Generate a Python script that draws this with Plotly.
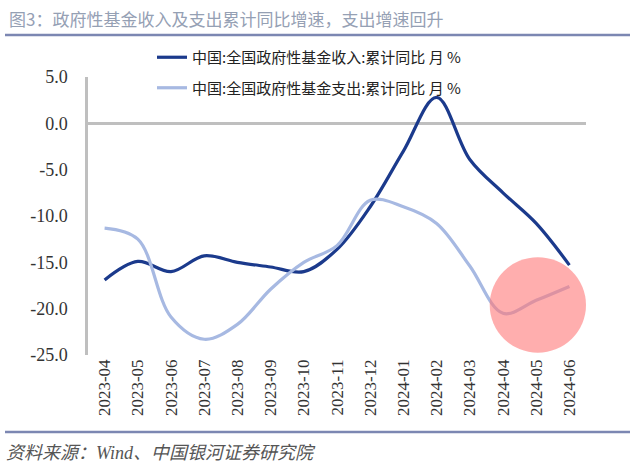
import plotly.graph_objects as go

months = ["2023-04", "2023-05", "2023-06", "2023-07", "2023-08", "2023-09", "2023-10",
          "2023-11", "2023-12", "2024-01", "2024-02", "2024-03", "2024-04", "2024-05", "2024-06"]
income = [-16.9, -14.9, -16.0, -14.3, -15.0, -15.5, -16.0, -13.6, -9.0, -3.0, 2.8, -3.9, -7.5, -10.8, -15.3]
expend = [-11.3, -12.5, -20.9, -23.3, -21.7, -17.9, -15.0, -13.2, -8.3, -9.0, -10.8, -15.4, -20.5, -19.1, -17.6]
y_ticks = [5, 0, -5, -10, -15, -20, -25]
y_tick_text = ["5.0", "0.0", "-5.0", "-10.0", "-15.0", "-20.0", "-25.0"]

name_income = "中国:全国政府性基金收入:累计同比 月 %"
name_expend = "中国:全国政府性基金支出:累计同比 月 %"

L, R, T, B = 88, 586, 77, 355
def px_x(p):
    return (p - L) / (R - L)
def px_y(p):
    return (B - p) / (B - T)

fig = go.Figure()
fig.add_trace(go.Scatter(x=months, y=income, name=name_income, mode="lines", legendgroup="a",
                         line=dict(color="#1b3a8c", width=3.2, shape="spline", smoothing=1.0)))
fig.add_trace(go.Scatter(x=months, y=expend, name=name_expend, mode="lines", legendgroup="b",
                         line=dict(color="#a7b9e2", width=3.2, shape="spline", smoothing=1.0)))

fig.update_layout(
    width=634, height=476,
    margin=dict(l=L, r=634 - R, t=T, b=476 - B),
    paper_bgcolor="white", plot_bgcolor="white",
    font=dict(family="Liberation Serif, Noto Sans CJK SC", color="#333333"),
    showlegend=True,
    legend=dict(x=px_x(152), y=px_y(41), xanchor="left", yanchor="top",
                bgcolor="rgba(0,0,0,0)", font=dict(size=15, family="Noto Sans CJK SC", color="#222222"),
                tracegroupgap=8),
    xaxis=dict(type="category", showline=False, showgrid=False, ticks="",
               tickangle=-90, tickfont=dict(size=17, family="Liberation Serif", color="#333333"),
               range=[-0.5, 14.5]),
    yaxis=dict(range=[-25, 5], tickvals=y_ticks, ticktext=y_tick_text, showgrid=False,
               showline=True, linecolor="#bfbfbf", linewidth=2.5, ticks="",
               ticklabelstandoff=14,
               zeroline=True, zerolinecolor="#bfbfbf", zerolinewidth=2.5,
               tickfont=dict(size=18, family="Liberation Serif", color="#333333")),
)

# highlight circle
fig.add_shape(type="circle", xref="x", yref="y", x0=11.6, x1=14.5, y0=-24.75, y1=-14.45,
              fillcolor="rgba(255,120,120,0.6)", line=dict(width=0), layer="above")

# title and rules
fig.add_annotation(text="图3：政府性基金收入及支出累计同比增速，支出增速回升", xref="paper", yref="paper",
                   x=px_x(7), y=px_y(18), xanchor="left", yanchor="middle", showarrow=False,
                   font=dict(size=17, family="Noto Sans CJK SC", color="#95a0b4"))
fig.add_shape(type="line", xref="paper", yref="paper", x0=px_x(5), x1=px_x(630), y0=px_y(35), y1=px_y(35),
              line=dict(color="#7c87b2", width=2.5))
fig.add_shape(type="line", xref="paper", yref="paper", x0=px_x(5), x1=px_x(630), y0=px_y(432), y1=px_y(432),
              line=dict(color="#7c87b2", width=2.5))
fig.add_annotation(text="<i>资料来源：Wind、中国银河证券研究院</i>", xref="paper", yref="paper",
                   x=px_x(4), y=px_y(453), xanchor="left", yanchor="middle", showarrow=False,
                   font=dict(size=18, family="Liberation Serif, Noto Sans CJK SC", color="#555555"))

fig.write_html("out.html")
